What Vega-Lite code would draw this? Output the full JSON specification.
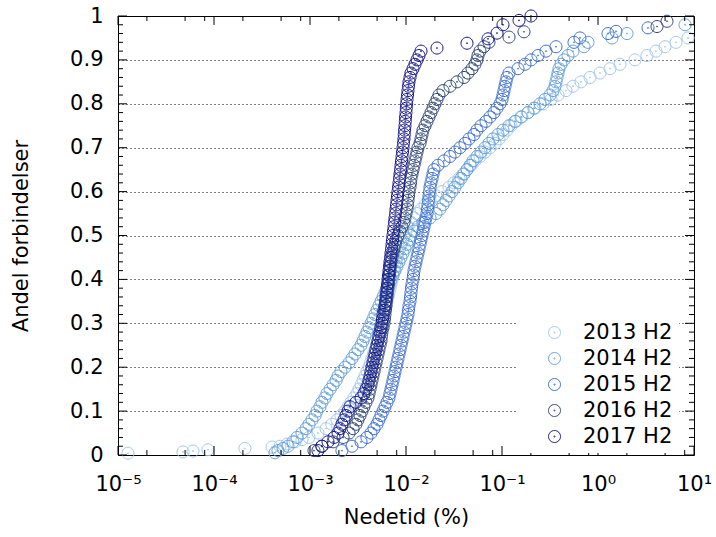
{
  "$schema": "https://vega.github.io/schema/vega-lite/v6.json",
  "width": 576,
  "height": 439,
  "autosize": "none",
  "padding": {"left": 118, "top": 16, "right": 22, "bottom": 82},
  "background": "white",
  "config": {
    "font": "DejaVu Sans",
    "view": {"stroke": "#000", "strokeWidth": 1},
    "axis": {"labelFontSize": 21, "titleFontSize": 21, "titleFontWeight": "normal", "labelColor": "#000", "titleColor": "#000", "domain": false, "labelFlush": false, "labelOverlap": false, "labelBound": false, "grid": false},
    "legend": {"labelFontSize": 21, "labelColor": "#000", "labelFont": "DejaVu Sans"}
  },
  "datasets": {
    "xmaj": [{"v":0.00001},{"v":0.0001},{"v":0.001},{"v":0.01},{"v":0.1},{"v":1},{"v":10}],
    "xmin": [{"v":0.00002},{"v":0.00005},{"v":0.00008},{"v":0.0002},{"v":0.0005},{"v":0.0008},{"v":0.002},{"v":0.005},{"v":0.008},{"v":0.02},{"v":0.05},{"v":0.08},{"v":0.2},{"v":0.5},{"v":0.8},{"v":2},{"v":5},{"v":8}],
    "ymaj": [{"v":0},{"v":0.1},{"v":0.2},{"v":0.3},{"v":0.4},{"v":0.5},{"v":0.6},{"v":0.7},{"v":0.8},{"v":0.9},{"v":1}],
    "ymin": [{"v":0.02},{"v":0.04},{"v":0.06},{"v":0.08},{"v":0.12},{"v":0.14},{"v":0.16},{"v":0.18},{"v":0.22},{"v":0.24},{"v":0.26},{"v":0.28},{"v":0.32},{"v":0.34},{"v":0.36},{"v":0.38},{"v":0.42},{"v":0.44},{"v":0.46},{"v":0.48},{"v":0.52},{"v":0.54},{"v":0.56},{"v":0.58},{"v":0.62},{"v":0.64},{"v":0.66},{"v":0.68},{"v":0.72},{"v":0.74},{"v":0.76},{"v":0.78},{"v":0.82},{"v":0.84},{"v":0.86},{"v":0.88},{"v":0.92},{"v":0.94},{"v":0.96},{"v":0.98}]
  },
  "data": {"values": [
    {"s":"2013 H2","x":1.271e-5,"y":0.004},{"s":"2013 H2","x":4.754e-5,"y":0.007},{"s":"2013 H2","x":6.043e-5,"y":0.009},{"s":"2013 H2","x":8.66e-5,"y":0.012},{"s":"2013 H2","x":2.103e-4,"y":0.015},{"s":"2013 H2","x":4.019e-4,"y":0.018},{"s":"2013 H2","x":4.87e-4,"y":0.02},{"s":"2013 H2","x":5.76e-4,"y":0.025},{"s":"2013 H2","x":6.979e-4,"y":0.03},{"s":"2013 H2","x":8.25e-4,"y":0.035},{"s":"2013 H2","x":9.76e-4,"y":0.04},{"s":"2013 H2","x":0.00121,"y":0.05},{"s":"2013 H2","x":0.00147,"y":0.06},{"s":"2013 H2","x":0.00169,"y":0.07},{"s":"2013 H2","x":0.00191,"y":0.08},{"s":"2013 H2","x":0.0021,"y":0.09},{"s":"2013 H2","x":0.00232,"y":0.1},{"s":"2013 H2","x":0.00249,"y":0.11},{"s":"2013 H2","x":0.00267,"y":0.12},{"s":"2013 H2","x":0.00287,"y":0.13},{"s":"2013 H2","x":0.00309,"y":0.14},{"s":"2013 H2","x":0.00324,"y":0.15},{"s":"2013 H2","x":0.0034,"y":0.16},{"s":"2013 H2","x":0.00357,"y":0.17},{"s":"2013 H2","x":0.00374,"y":0.18},{"s":"2013 H2","x":0.00392,"y":0.19},{"s":"2013 H2","x":0.00412,"y":0.2},{"s":"2013 H2","x":0.00427,"y":0.21},{"s":"2013 H2","x":0.00442,"y":0.22},{"s":"2013 H2","x":0.00459,"y":0.23},{"s":"2013 H2","x":0.00475,"y":0.24},{"s":"2013 H2","x":0.00493,"y":0.25},{"s":"2013 H2","x":0.00511,"y":0.26},{"s":"2013 H2","x":0.00523,"y":0.27},{"s":"2013 H2","x":0.00536,"y":0.28},{"s":"2013 H2","x":0.00549,"y":0.29},{"s":"2013 H2","x":0.00562,"y":0.3},{"s":"2013 H2","x":0.00576,"y":0.31},{"s":"2013 H2","x":0.0059,"y":0.32},{"s":"2013 H2","x":0.00604,"y":0.33},{"s":"2013 H2","x":0.00619,"y":0.34},{"s":"2013 H2","x":0.00634,"y":0.35},{"s":"2013 H2","x":0.00649,"y":0.36},{"s":"2013 H2","x":0.00665,"y":0.37},{"s":"2013 H2","x":0.00681,"y":0.38},{"s":"2013 H2","x":0.00698,"y":0.39},{"s":"2013 H2","x":0.00715,"y":0.4},{"s":"2013 H2","x":0.00732,"y":0.41},{"s":"2013 H2","x":0.0075,"y":0.42},{"s":"2013 H2","x":0.00768,"y":0.43},{"s":"2013 H2","x":0.00787,"y":0.44},{"s":"2013 H2","x":0.00806,"y":0.45},{"s":"2013 H2","x":0.00825,"y":0.46},{"s":"2013 H2","x":0.00856,"y":0.47},{"s":"2013 H2","x":0.00887,"y":0.48},{"s":"2013 H2","x":0.0092,"y":0.49},{"s":"2013 H2","x":0.00953,"y":0.5},{"s":"2013 H2","x":0.01,"y":0.51},{"s":"2013 H2","x":0.01049,"y":0.52},{"s":"2013 H2","x":0.01127,"y":0.53},{"s":"2013 H2","x":0.01212,"y":0.54},{"s":"2013 H2","x":0.01302,"y":0.55},{"s":"2013 H2","x":0.01433,"y":0.56},{"s":"2013 H2","x":0.01578,"y":0.57},{"s":"2013 H2","x":0.01778,"y":0.58},{"s":"2013 H2","x":0.02054,"y":0.59},{"s":"2013 H2","x":0.02374,"y":0.6},{"s":"2013 H2","x":0.02805,"y":0.61},{"s":"2013 H2","x":0.03162,"y":0.62},{"s":"2013 H2","x":0.03565,"y":0.63},{"s":"2013 H2","x":0.03924,"y":0.64},{"s":"2013 H2","x":0.04319,"y":0.65},{"s":"2013 H2","x":0.0476,"y":0.66},{"s":"2013 H2","x":0.05233,"y":0.67},{"s":"2013 H2","x":0.059,"y":0.68},{"s":"2013 H2","x":0.06652,"y":0.69},{"s":"2013 H2","x":0.07499,"y":0.7},{"s":"2013 H2","x":0.08455,"y":0.71},{"s":"2013 H2","x":0.09306,"y":0.72},{"s":"2013 H2","x":0.1024,"y":0.73},{"s":"2013 H2","x":0.1127,"y":0.74},{"s":"2013 H2","x":0.1241,"y":0.75},{"s":"2013 H2","x":0.1399,"y":0.76},{"s":"2013 H2","x":0.1616,"y":0.77},{"s":"2013 H2","x":0.1866,"y":0.78},{"s":"2013 H2","x":0.2207,"y":0.79},{"s":"2013 H2","x":0.2674,"y":0.8},{"s":"2013 H2","x":0.3239,"y":0.81},{"s":"2013 H2","x":0.3831,"y":0.82},{"s":"2013 H2","x":0.4642,"y":0.83},{"s":"2013 H2","x":0.549,"y":0.84},{"s":"2013 H2","x":0.6652,"y":0.85},{"s":"2013 H2","x":0.8254,"y":0.86},{"s":"2013 H2","x":1.049,"y":0.87},{"s":"2013 H2","x":1.334,"y":0.88},{"s":"2013 H2","x":1.695,"y":0.89},{"s":"2013 H2","x":2.429,"y":0.9},{"s":"2013 H2","x":3.239,"y":0.91},{"s":"2013 H2","x":4.019,"y":0.92},{"s":"2013 H2","x":4.988,"y":0.93},{"s":"2013 H2","x":6.494,"y":0.94},{"s":"2013 H2","x":8.66,"y":0.95},
    {"s":"2014 H2","x":0.000432,"y":0.005},{"s":"2014 H2","x":0.000464,"y":0.01},{"s":"2014 H2","x":0.000523,"y":0.015},{"s":"2014 H2","x":0.00059,"y":0.02},{"s":"2014 H2","x":0.000665,"y":0.03},{"s":"2014 H2","x":0.000732,"y":0.04},{"s":"2014 H2","x":0.000825,"y":0.05},{"s":"2014 H2","x":0.000909,"y":0.06},{"s":"2014 H2","x":0.000976,"y":0.07},{"s":"2014 H2","x":0.00105,"y":0.08},{"s":"2014 H2","x":0.00113,"y":0.09},{"s":"2014 H2","x":0.00118,"y":0.1},{"s":"2014 H2","x":0.00127,"y":0.11},{"s":"2014 H2","x":0.00133,"y":0.12},{"s":"2014 H2","x":0.00143,"y":0.13},{"s":"2014 H2","x":0.0015,"y":0.14},{"s":"2014 H2","x":0.00162,"y":0.15},{"s":"2014 H2","x":0.00174,"y":0.16},{"s":"2014 H2","x":0.00187,"y":0.17},{"s":"2014 H2","x":0.00196,"y":0.18},{"s":"2014 H2","x":0.0021,"y":0.19},{"s":"2014 H2","x":0.00232,"y":0.2},{"s":"2014 H2","x":0.00255,"y":0.21},{"s":"2014 H2","x":0.00274,"y":0.22},{"s":"2014 H2","x":0.00294,"y":0.23},{"s":"2014 H2","x":0.00316,"y":0.24},{"s":"2014 H2","x":0.0034,"y":0.25},{"s":"2014 H2","x":0.00357,"y":0.26},{"s":"2014 H2","x":0.00374,"y":0.27},{"s":"2014 H2","x":0.00392,"y":0.28},{"s":"2014 H2","x":0.00412,"y":0.29},{"s":"2014 H2","x":0.00432,"y":0.3},{"s":"2014 H2","x":0.00453,"y":0.31},{"s":"2014 H2","x":0.00475,"y":0.32},{"s":"2014 H2","x":0.00499,"y":0.33},{"s":"2014 H2","x":0.00523,"y":0.34},{"s":"2014 H2","x":0.00549,"y":0.35},{"s":"2014 H2","x":0.00576,"y":0.36},{"s":"2014 H2","x":0.00604,"y":0.37},{"s":"2014 H2","x":0.00634,"y":0.38},{"s":"2014 H2","x":0.00665,"y":0.39},{"s":"2014 H2","x":0.00698,"y":0.4},{"s":"2014 H2","x":0.00732,"y":0.41},{"s":"2014 H2","x":0.00768,"y":0.42},{"s":"2014 H2","x":0.00806,"y":0.43},{"s":"2014 H2","x":0.00846,"y":0.44},{"s":"2014 H2","x":0.00887,"y":0.45},{"s":"2014 H2","x":0.00931,"y":0.46},{"s":"2014 H2","x":0.00976,"y":0.47},{"s":"2014 H2","x":0.01024,"y":0.48},{"s":"2014 H2","x":0.01075,"y":0.49},{"s":"2014 H2","x":0.01127,"y":0.5},{"s":"2014 H2","x":0.01212,"y":0.51},{"s":"2014 H2","x":0.01334,"y":0.52},{"s":"2014 H2","x":0.01504,"y":0.53},{"s":"2014 H2","x":0.01778,"y":0.54},{"s":"2014 H2","x":0.02054,"y":0.55},{"s":"2014 H2","x":0.0226,"y":0.56},{"s":"2014 H2","x":0.02429,"y":0.57},{"s":"2014 H2","x":0.0261,"y":0.58},{"s":"2014 H2","x":0.02805,"y":0.59},{"s":"2014 H2","x":0.03014,"y":0.6},{"s":"2014 H2","x":0.03239,"y":0.61},{"s":"2014 H2","x":0.03481,"y":0.62},{"s":"2014 H2","x":0.0374,"y":0.63},{"s":"2014 H2","x":0.04019,"y":0.64},{"s":"2014 H2","x":0.04319,"y":0.65},{"s":"2014 H2","x":0.04642,"y":0.66},{"s":"2014 H2","x":0.04988,"y":0.67},{"s":"2014 H2","x":0.0549,"y":0.68},{"s":"2014 H2","x":0.06043,"y":0.69},{"s":"2014 H2","x":0.06652,"y":0.7},{"s":"2014 H2","x":0.07322,"y":0.71},{"s":"2014 H2","x":0.08059,"y":0.72},{"s":"2014 H2","x":0.09085,"y":0.73},{"s":"2014 H2","x":0.1024,"y":0.74},{"s":"2014 H2","x":0.1183,"y":0.75},{"s":"2014 H2","x":0.1366,"y":0.76},{"s":"2014 H2","x":0.1578,"y":0.77},{"s":"2014 H2","x":0.1866,"y":0.78},{"s":"2014 H2","x":0.2154,"y":0.79},{"s":"2014 H2","x":0.2488,"y":0.8},{"s":"2014 H2","x":0.2805,"y":0.81},{"s":"2014 H2","x":0.3162,"y":0.82},{"s":"2014 H2","x":0.3398,"y":0.83},{"s":"2014 H2","x":0.3565,"y":0.84},{"s":"2014 H2","x":0.3652,"y":0.85},{"s":"2014 H2","x":0.374,"y":0.86},{"s":"2014 H2","x":0.3831,"y":0.87},{"s":"2014 H2","x":0.3924,"y":0.88},{"s":"2014 H2","x":0.4117,"y":0.89},{"s":"2014 H2","x":0.4424,"y":0.9},{"s":"2014 H2","x":0.487,"y":0.91},{"s":"2014 H2","x":0.549,"y":0.92},{"s":"2014 H2","x":0.7149,"y":0.93},{"s":"2014 H2","x":0.7868,"y":0.94},{"s":"2014 H2","x":1.399,"y":0.95},{"s":"2014 H2","x":2.005,"y":0.96},{"s":"2014 H2","x":8.059,"y":0.98},
    {"s":"2015 H2","x":0.00215,"y":0.01},{"s":"2015 H2","x":0.00274,"y":0.02},{"s":"2015 H2","x":0.0034,"y":0.03},{"s":"2015 H2","x":0.00392,"y":0.04},{"s":"2015 H2","x":0.00432,"y":0.05},{"s":"2015 H2","x":0.00464,"y":0.06},{"s":"2015 H2","x":0.00499,"y":0.07},{"s":"2015 H2","x":0.00523,"y":0.08},{"s":"2015 H2","x":0.00549,"y":0.09},{"s":"2015 H2","x":0.00576,"y":0.1},{"s":"2015 H2","x":0.00604,"y":0.11},{"s":"2015 H2","x":0.00634,"y":0.12},{"s":"2015 H2","x":0.00665,"y":0.13},{"s":"2015 H2","x":0.00681,"y":0.14},{"s":"2015 H2","x":0.00698,"y":0.15},{"s":"2015 H2","x":0.00715,"y":0.16},{"s":"2015 H2","x":0.00732,"y":0.17},{"s":"2015 H2","x":0.0075,"y":0.18},{"s":"2015 H2","x":0.00768,"y":0.19},{"s":"2015 H2","x":0.00787,"y":0.2},{"s":"2015 H2","x":0.00806,"y":0.21},{"s":"2015 H2","x":0.00825,"y":0.22},{"s":"2015 H2","x":0.00846,"y":0.23},{"s":"2015 H2","x":0.00866,"y":0.24},{"s":"2015 H2","x":0.00887,"y":0.25},{"s":"2015 H2","x":0.00909,"y":0.26},{"s":"2015 H2","x":0.00931,"y":0.27},{"s":"2015 H2","x":0.00953,"y":0.28},{"s":"2015 H2","x":0.00976,"y":0.29},{"s":"2015 H2","x":0.01,"y":0.3},{"s":"2015 H2","x":0.01024,"y":0.31},{"s":"2015 H2","x":0.01049,"y":0.32},{"s":"2015 H2","x":0.01062,"y":0.33},{"s":"2015 H2","x":0.01075,"y":0.34},{"s":"2015 H2","x":0.01101,"y":0.35},{"s":"2015 H2","x":0.01114,"y":0.36},{"s":"2015 H2","x":0.01127,"y":0.37},{"s":"2015 H2","x":0.01141,"y":0.38},{"s":"2015 H2","x":0.01155,"y":0.39},{"s":"2015 H2","x":0.01183,"y":0.4},{"s":"2015 H2","x":0.01197,"y":0.41},{"s":"2015 H2","x":0.01212,"y":0.42},{"s":"2015 H2","x":0.01241,"y":0.43},{"s":"2015 H2","x":0.01271,"y":0.44},{"s":"2015 H2","x":0.01302,"y":0.45},{"s":"2015 H2","x":0.01334,"y":0.46},{"s":"2015 H2","x":0.01366,"y":0.47},{"s":"2015 H2","x":0.01399,"y":0.48},{"s":"2015 H2","x":0.01433,"y":0.49},{"s":"2015 H2","x":0.01468,"y":0.5},{"s":"2015 H2","x":0.01504,"y":0.51},{"s":"2015 H2","x":0.0154,"y":0.52},{"s":"2015 H2","x":0.01578,"y":0.53},{"s":"2015 H2","x":0.01616,"y":0.54},{"s":"2015 H2","x":0.01655,"y":0.55},{"s":"2015 H2","x":0.01675,"y":0.56},{"s":"2015 H2","x":0.01695,"y":0.57},{"s":"2015 H2","x":0.01715,"y":0.58},{"s":"2015 H2","x":0.01736,"y":0.59},{"s":"2015 H2","x":0.01757,"y":0.6},{"s":"2015 H2","x":0.01778,"y":0.61},{"s":"2015 H2","x":0.01821,"y":0.62},{"s":"2015 H2","x":0.01866,"y":0.63},{"s":"2015 H2","x":0.01911,"y":0.64},{"s":"2015 H2","x":0.01957,"y":0.65},{"s":"2015 H2","x":0.02154,"y":0.66},{"s":"2015 H2","x":0.02488,"y":0.67},{"s":"2015 H2","x":0.02873,"y":0.68},{"s":"2015 H2","x":0.03239,"y":0.69},{"s":"2015 H2","x":0.03652,"y":0.7},{"s":"2015 H2","x":0.04117,"y":0.71},{"s":"2015 H2","x":0.04532,"y":0.72},{"s":"2015 H2","x":0.05109,"y":0.73},{"s":"2015 H2","x":0.0549,"y":0.74},{"s":"2015 H2","x":0.06043,"y":0.75},{"s":"2015 H2","x":0.06813,"y":0.76},{"s":"2015 H2","x":0.07499,"y":0.77},{"s":"2015 H2","x":0.08254,"y":0.78},{"s":"2015 H2","x":0.0887,"y":0.79},{"s":"2015 H2","x":0.0953,"y":0.8},{"s":"2015 H2","x":0.1,"y":0.81},{"s":"2015 H2","x":0.1024,"y":0.82},{"s":"2015 H2","x":0.1049,"y":0.83},{"s":"2015 H2","x":0.1075,"y":0.84},{"s":"2015 H2","x":0.1101,"y":0.85},{"s":"2015 H2","x":0.1127,"y":0.86},{"s":"2015 H2","x":0.1183,"y":0.87},{"s":"2015 H2","x":0.1468,"y":0.88},{"s":"2015 H2","x":0.1736,"y":0.89},{"s":"2015 H2","x":0.2005,"y":0.9},{"s":"2015 H2","x":0.2371,"y":0.91},{"s":"2015 H2","x":0.2873,"y":0.92},{"s":"2015 H2","x":0.3652,"y":0.93},{"s":"2015 H2","x":0.5623,"y":0.94},{"s":"2015 H2","x":0.6494,"y":0.95},{"s":"2015 H2","x":1.271,"y":0.96},{"s":"2015 H2","x":1.54,"y":0.965},{"s":"2015 H2","x":3.318,"y":0.973},
    {"s":"2016 H2","x":0.0011,"y":0.01},{"s":"2016 H2","x":0.00133,"y":0.02},{"s":"2016 H2","x":0.00174,"y":0.03},{"s":"2016 H2","x":0.00221,"y":0.04},{"s":"2016 H2","x":0.00255,"y":0.05},{"s":"2016 H2","x":0.00281,"y":0.06},{"s":"2016 H2","x":0.00301,"y":0.07},{"s":"2016 H2","x":0.00316,"y":0.08},{"s":"2016 H2","x":0.00332,"y":0.09},{"s":"2016 H2","x":0.00348,"y":0.1},{"s":"2016 H2","x":0.00365,"y":0.11},{"s":"2016 H2","x":0.00383,"y":0.12},{"s":"2016 H2","x":0.00402,"y":0.13},{"s":"2016 H2","x":0.00412,"y":0.14},{"s":"2016 H2","x":0.00422,"y":0.15},{"s":"2016 H2","x":0.00432,"y":0.16},{"s":"2016 H2","x":0.00442,"y":0.17},{"s":"2016 H2","x":0.00453,"y":0.18},{"s":"2016 H2","x":0.00464,"y":0.19},{"s":"2016 H2","x":0.00475,"y":0.2},{"s":"2016 H2","x":0.00487,"y":0.21},{"s":"2016 H2","x":0.00499,"y":0.22},{"s":"2016 H2","x":0.00511,"y":0.23},{"s":"2016 H2","x":0.00523,"y":0.24},{"s":"2016 H2","x":0.00536,"y":0.25},{"s":"2016 H2","x":0.00549,"y":0.26},{"s":"2016 H2","x":0.00555,"y":0.27},{"s":"2016 H2","x":0.00562,"y":0.28},{"s":"2016 H2","x":0.00576,"y":0.29},{"s":"2016 H2","x":0.0059,"y":0.3},{"s":"2016 H2","x":0.00597,"y":0.31},{"s":"2016 H2","x":0.00604,"y":0.32},{"s":"2016 H2","x":0.00612,"y":0.33},{"s":"2016 H2","x":0.00619,"y":0.34},{"s":"2016 H2","x":0.00627,"y":0.35},{"s":"2016 H2","x":0.00634,"y":0.36},{"s":"2016 H2","x":0.00642,"y":0.37},{"s":"2016 H2","x":0.00649,"y":0.38},{"s":"2016 H2","x":0.00657,"y":0.39},{"s":"2016 H2","x":0.00665,"y":0.4},{"s":"2016 H2","x":0.00673,"y":0.41},{"s":"2016 H2","x":0.00681,"y":0.42},{"s":"2016 H2","x":0.0069,"y":0.43},{"s":"2016 H2","x":0.00698,"y":0.44},{"s":"2016 H2","x":0.00715,"y":0.45},{"s":"2016 H2","x":0.00732,"y":0.46},{"s":"2016 H2","x":0.0075,"y":0.47},{"s":"2016 H2","x":0.00768,"y":0.48},{"s":"2016 H2","x":0.00787,"y":0.49},{"s":"2016 H2","x":0.00825,"y":0.5},{"s":"2016 H2","x":0.00866,"y":0.51},{"s":"2016 H2","x":0.00909,"y":0.52},{"s":"2016 H2","x":0.00953,"y":0.53},{"s":"2016 H2","x":0.00976,"y":0.54},{"s":"2016 H2","x":0.01,"y":0.55},{"s":"2016 H2","x":0.01024,"y":0.56},{"s":"2016 H2","x":0.01037,"y":0.57},{"s":"2016 H2","x":0.01049,"y":0.58},{"s":"2016 H2","x":0.01062,"y":0.59},{"s":"2016 H2","x":0.01075,"y":0.6},{"s":"2016 H2","x":0.01101,"y":0.61},{"s":"2016 H2","x":0.01114,"y":0.62},{"s":"2016 H2","x":0.01127,"y":0.63},{"s":"2016 H2","x":0.01155,"y":0.64},{"s":"2016 H2","x":0.01183,"y":0.65},{"s":"2016 H2","x":0.01212,"y":0.66},{"s":"2016 H2","x":0.01241,"y":0.67},{"s":"2016 H2","x":0.01271,"y":0.68},{"s":"2016 H2","x":0.01302,"y":0.69},{"s":"2016 H2","x":0.01334,"y":0.7},{"s":"2016 H2","x":0.01399,"y":0.71},{"s":"2016 H2","x":0.01433,"y":0.72},{"s":"2016 H2","x":0.01468,"y":0.73},{"s":"2016 H2","x":0.01504,"y":0.74},{"s":"2016 H2","x":0.01578,"y":0.75},{"s":"2016 H2","x":0.01655,"y":0.76},{"s":"2016 H2","x":0.01736,"y":0.77},{"s":"2016 H2","x":0.01821,"y":0.78},{"s":"2016 H2","x":0.01911,"y":0.79},{"s":"2016 H2","x":0.02005,"y":0.8},{"s":"2016 H2","x":0.02103,"y":0.81},{"s":"2016 H2","x":0.02207,"y":0.82},{"s":"2016 H2","x":0.02429,"y":0.83},{"s":"2016 H2","x":0.02873,"y":0.84},{"s":"2016 H2","x":0.03398,"y":0.85},{"s":"2016 H2","x":0.04019,"y":0.86},{"s":"2016 H2","x":0.04424,"y":0.87},{"s":"2016 H2","x":0.0487,"y":0.88},{"s":"2016 H2","x":0.05233,"y":0.89},{"s":"2016 H2","x":0.0549,"y":0.9},{"s":"2016 H2","x":0.05623,"y":0.91},{"s":"2016 H2","x":0.059,"y":0.92},{"s":"2016 H2","x":0.06494,"y":0.93},{"s":"2016 H2","x":0.07322,"y":0.94},{"s":"2016 H2","x":0.1183,"y":0.952},{"s":"2016 H2","x":0.1695,"y":0.964},{"s":"2016 H2","x":4.117,"y":0.976},{"s":"2016 H2","x":5.233,"y":0.988},
    {"s":"2017 H2","x":0.00121,"y":0.01},{"s":"2017 H2","x":0.00133,"y":0.02},{"s":"2017 H2","x":0.00154,"y":0.03},{"s":"2017 H2","x":0.00178,"y":0.04},{"s":"2017 H2","x":0.00196,"y":0.05},{"s":"2017 H2","x":0.00205,"y":0.06},{"s":"2017 H2","x":0.00215,"y":0.07},{"s":"2017 H2","x":0.00226,"y":0.08},{"s":"2017 H2","x":0.00237,"y":0.09},{"s":"2017 H2","x":0.00249,"y":0.1},{"s":"2017 H2","x":0.00261,"y":0.11},{"s":"2017 H2","x":0.00301,"y":0.12},{"s":"2017 H2","x":0.0034,"y":0.13},{"s":"2017 H2","x":0.00365,"y":0.14},{"s":"2017 H2","x":0.00383,"y":0.15},{"s":"2017 H2","x":0.00402,"y":0.16},{"s":"2017 H2","x":0.00412,"y":0.17},{"s":"2017 H2","x":0.00422,"y":0.18},{"s":"2017 H2","x":0.00432,"y":0.19},{"s":"2017 H2","x":0.00442,"y":0.2},{"s":"2017 H2","x":0.00453,"y":0.21},{"s":"2017 H2","x":0.00464,"y":0.22},{"s":"2017 H2","x":0.00475,"y":0.23},{"s":"2017 H2","x":0.00487,"y":0.24},{"s":"2017 H2","x":0.00499,"y":0.25},{"s":"2017 H2","x":0.00511,"y":0.26},{"s":"2017 H2","x":0.00523,"y":0.27},{"s":"2017 H2","x":0.00536,"y":0.28},{"s":"2017 H2","x":0.00549,"y":0.29},{"s":"2017 H2","x":0.00562,"y":0.3},{"s":"2017 H2","x":0.00569,"y":0.31},{"s":"2017 H2","x":0.00576,"y":0.32},{"s":"2017 H2","x":0.0059,"y":0.33},{"s":"2017 H2","x":0.00604,"y":0.34},{"s":"2017 H2","x":0.00612,"y":0.35},{"s":"2017 H2","x":0.00619,"y":0.36},{"s":"2017 H2","x":0.00627,"y":0.37},{"s":"2017 H2","x":0.00634,"y":0.38},{"s":"2017 H2","x":0.00642,"y":0.39},{"s":"2017 H2","x":0.00649,"y":0.4},{"s":"2017 H2","x":0.00657,"y":0.41},{"s":"2017 H2","x":0.00665,"y":0.42},{"s":"2017 H2","x":0.00673,"y":0.43},{"s":"2017 H2","x":0.00681,"y":0.44},{"s":"2017 H2","x":0.0069,"y":0.45},{"s":"2017 H2","x":0.00698,"y":0.46},{"s":"2017 H2","x":0.00706,"y":0.47},{"s":"2017 H2","x":0.00715,"y":0.48},{"s":"2017 H2","x":0.00723,"y":0.49},{"s":"2017 H2","x":0.00732,"y":0.5},{"s":"2017 H2","x":0.00741,"y":0.51},{"s":"2017 H2","x":0.0075,"y":0.52},{"s":"2017 H2","x":0.00759,"y":0.53},{"s":"2017 H2","x":0.00768,"y":0.54},{"s":"2017 H2","x":0.00777,"y":0.55},{"s":"2017 H2","x":0.00787,"y":0.56},{"s":"2017 H2","x":0.00796,"y":0.57},{"s":"2017 H2","x":0.00806,"y":0.58},{"s":"2017 H2","x":0.00816,"y":0.59},{"s":"2017 H2","x":0.00825,"y":0.6},{"s":"2017 H2","x":0.00836,"y":0.61},{"s":"2017 H2","x":0.00846,"y":0.62},{"s":"2017 H2","x":0.00856,"y":0.63},{"s":"2017 H2","x":0.00866,"y":0.64},{"s":"2017 H2","x":0.00877,"y":0.65},{"s":"2017 H2","x":0.00887,"y":0.66},{"s":"2017 H2","x":0.00898,"y":0.67},{"s":"2017 H2","x":0.00909,"y":0.68},{"s":"2017 H2","x":0.0092,"y":0.69},{"s":"2017 H2","x":0.00931,"y":0.7},{"s":"2017 H2","x":0.00942,"y":0.71},{"s":"2017 H2","x":0.00953,"y":0.72},{"s":"2017 H2","x":0.0096,"y":0.73},{"s":"2017 H2","x":0.00967,"y":0.74},{"s":"2017 H2","x":0.00976,"y":0.75},{"s":"2017 H2","x":0.00983,"y":0.76},{"s":"2017 H2","x":0.0099,"y":0.77},{"s":"2017 H2","x":0.01,"y":0.78},{"s":"2017 H2","x":0.01007,"y":0.79},{"s":"2017 H2","x":0.01015,"y":0.8},{"s":"2017 H2","x":0.01024,"y":0.81},{"s":"2017 H2","x":0.01037,"y":0.82},{"s":"2017 H2","x":0.01049,"y":0.83},{"s":"2017 H2","x":0.01062,"y":0.84},{"s":"2017 H2","x":0.01075,"y":0.85},{"s":"2017 H2","x":0.01101,"y":0.86},{"s":"2017 H2","x":0.01127,"y":0.87},{"s":"2017 H2","x":0.01183,"y":0.88},{"s":"2017 H2","x":0.01241,"y":0.89},{"s":"2017 H2","x":0.01302,"y":0.9},{"s":"2017 H2","x":0.01366,"y":0.91},{"s":"2017 H2","x":0.01433,"y":0.92},{"s":"2017 H2","x":0.02103,"y":0.927},{"s":"2017 H2","x":0.04319,"y":0.938},{"s":"2017 H2","x":0.0715,"y":0.948},{"s":"2017 H2","x":0.0887,"y":0.961},{"s":"2017 H2","x":0.1024,"y":0.98},{"s":"2017 H2","x":0.1504,"y":0.99},{"s":"2017 H2","x":0.2005,"y":1.0}
  ]},
  "layer": [
    {
      "mark": {"type": "point", "shape": "M-1,0A1,1,0,1,0,1,0A1,1,0,1,0,-1,0ZM-0.09,0A0.09,0.09,0,1,0,0.09,0A0.09,0.09,0,1,0,-0.09,0Z", "filled": false, "size": 144, "strokeWidth": 1, "opacity": 1},
      "encoding": {
        "x": {"field": "x", "type": "quantitative", "scale": {"type": "log", "domain": [0.00001, 10], "nice": false},
          "axis": {"orient": "bottom", "values": [0.00001, 0.0001, 0.001, 0.01, 0.1, 1, 10], "labelExpr": "datum.value < 5e-5 ? '10⁻⁵' : datum.value < 5e-4 ? '10⁻⁴' : datum.value < 5e-3 ? '10⁻³' : datum.value < 0.05 ? '10⁻²' : datum.value < 0.5 ? '10⁻¹' : datum.value < 5 ? '10⁰' : '10¹'", "ticks": false, "labelPadding": 18, "title": "Nedetid (%)", "titlePadding": 12}},
        "y": {"field": "y", "type": "quantitative", "scale": {"domain": [0, 1], "nice": false, "zero": false},
          "axis": {"orient": "left", "values": [0, 0.1, 0.2, 0.3, 0.4, 0.5, 0.6, 0.7, 0.8, 0.9, 1], "format": ".1~f", "ticks": false, "labelPadding": 15, "grid": true, "gridDash": [1, 3], "gridColor": "#000", "title": "Andel forbindelser", "titlePadding": 38}},
        "color": {"field": "s", "type": "nominal",
          "scale": {"domain": ["2013 H2", "2014 H2", "2015 H2", "2016 H2", "2017 H2"], "range": ["#a0c8eb", "#64a0dc", "#3c6ed2", "#2d4678", "#14148c"]},
          "legend": {"title": null, "orient": "none", "legendX": 400, "legendY": 300, "padding": 6, "fillColor": "white", "symbolType": "M-1,0A1,1,0,1,0,1,0A1,1,0,1,0,-1,0ZM-0.09,0A0.09,0.09,0,1,0,0.09,0A0.09,0.09,0,1,0,-0.09,0Z", "symbolSize": 144, "symbolStrokeWidth": 1, "symbolOffset": 20, "labelOffset": 18, "rowPadding": 4}}
      }
    },
    {"data": {"name": "xmaj"}, "mark": {"type": "rule", "color": "black", "strokeWidth": 1},
     "encoding": {"x": {"field": "v", "type": "quantitative", "axis": null}, "y": {"datum": 0, "axis": null}, "y2": {"datum": 0.0205}}},
    {"data": {"name": "xmaj"}, "mark": {"type": "rule", "color": "black", "strokeWidth": 1},
     "encoding": {"x": {"field": "v", "type": "quantitative", "axis": null}, "y": {"datum": 1, "axis": null}, "y2": {"datum": 0.9795}}},
    {"data": {"name": "xmin"}, "mark": {"type": "rule", "color": "black", "strokeWidth": 1},
     "encoding": {"x": {"field": "v", "type": "quantitative", "axis": null}, "y": {"datum": 0, "axis": null}, "y2": {"datum": 0.0114}}},
    {"data": {"name": "xmin"}, "mark": {"type": "rule", "color": "black", "strokeWidth": 1},
     "encoding": {"x": {"field": "v", "type": "quantitative", "axis": null}, "y": {"datum": 1, "axis": null}, "y2": {"datum": 0.9886}}},
    {"data": {"name": "ymaj"}, "mark": {"type": "rule", "color": "black", "strokeWidth": 1},
     "encoding": {"y": {"field": "v", "type": "quantitative", "axis": null}, "x": {"datum": 0.00001, "axis": null}, "x2": {"datum": 0.00001241}}},
    {"data": {"name": "ymaj"}, "mark": {"type": "rule", "color": "black", "strokeWidth": 1},
     "encoding": {"y": {"field": "v", "type": "quantitative", "axis": null}, "x": {"datum": 10, "axis": null}, "x2": {"datum": 8.058}}},
    {"data": {"name": "ymin"}, "mark": {"type": "rule", "color": "black", "strokeWidth": 1},
     "encoding": {"y": {"field": "v", "type": "quantitative", "axis": null}, "x": {"datum": 0.00001, "axis": null}, "x2": {"datum": 0.00001127}}},
    {"data": {"name": "ymin"}, "mark": {"type": "rule", "color": "black", "strokeWidth": 1},
     "encoding": {"y": {"field": "v", "type": "quantitative", "axis": null}, "x": {"datum": 10, "axis": null}, "x2": {"datum": 8.873}}}
  ],
  "resolve": {"axis": {"x": "independent", "y": "independent"}}
}
